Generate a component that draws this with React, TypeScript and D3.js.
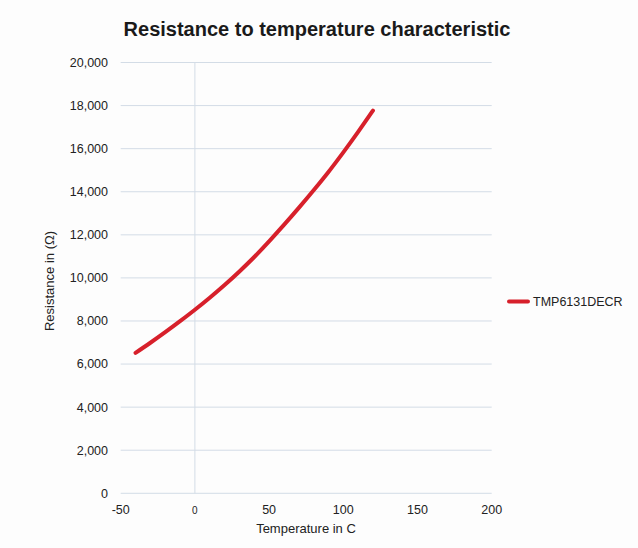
import React from "react";
import * as d3 from "d3";

const temperatures = [-40, -30, -20, -10, 0, 10, 20, 30, 40, 50, 60, 70, 80, 90, 100, 110, 120];
const resistance = [6520, 6990, 7480, 7990, 8520, 9080, 9670, 10300, 10970, 11700, 12460, 13250, 14070, 14920, 15830, 16780, 17770];
const xTicks = [-50, 0, 50, 100, 150, 200];
const yTicks = [0, 2000, 4000, 6000, 8000, 10000, 12000, 14000, 16000, 18000, 20000];
const seriesName = "TMP6131DECR";
const title = "Resistance to temperature characteristic";
const xTitle = "Temperature in C";
const yTitle = "Resistance in (Ω)";

const W = 638;
const H = 548;
const FONT = "'Liberation Sans', Arial, Helvetica, sans-serif";

export default function App() {
  const x = d3.scaleLinear().domain([-50, 200]).range([120.7, 491.7]);
  const y = d3.scaleLinear().domain([0, 20000]).range([493.3, 62.5]);
  const data = temperatures.map((t, i) => [t, resistance[i]] as [number, number]);
  const line = d3
    .line<[number, number]>()
    .x((d) => x(d[0]))
    .y((d) => y(d[1]))
    .curve(d3.curveMonotoneX);
  const grid = "#d3dce6";
  const text = "#222";
  const red = "#d7202b";
  return (
    <svg
      width={W}
      height={H}
      style={{ position: "absolute", left: 0, top: 0, background: "#fdfdfd" }}
    >
      <rect x={0} y={0} width={W} height={H} fill="#fdfdfd" />
      <text x={317} y={36} textAnchor="middle" fontFamily={FONT} fontWeight="bold" fontSize={20} fill="#1a1a1a">
        {title}
      </text>
      {yTicks.map((v) => (
        <g key={v}>
          <line x1={x(-50)} x2={x(200)} y1={y(v)} y2={y(v)} stroke={grid} strokeWidth={1} />
          <text x={108} y={y(v)} dy="0.35em" textAnchor="end" fontFamily={FONT} fontSize={12.5} fill={text}>
            {d3.format(",")(v)}
          </text>
        </g>
      ))}
      <line x1={x(0)} x2={x(0)} y1={y(20000)} y2={y(0)} stroke={grid} strokeWidth={1} />
      {xTicks.map((v) => (
        <text
          key={v}
          x={x(v)}
          y={514}
          textAnchor="middle"
          fontFamily={FONT}
          fontSize={v === 0 ? 10 : 12.5}
          fill={text}
        >
          {v}
        </text>
      ))}
      <text x={306} y={533} textAnchor="middle" fontFamily={FONT} fontSize={13} fill={text}>
        {xTitle}
      </text>
      <text
        transform={`translate(54,${281}) rotate(-90)`}
        textAnchor="middle"
        fontFamily={FONT}
        fontSize={13}
        fill={text}
      >
        {yTitle}
      </text>
      <path d={line(data) || ""} fill="none" stroke={red} strokeWidth={4} strokeLinecap="round" />
      <line x1={509} x2={528} y1={301.5} y2={301.5} stroke={red} strokeWidth={4} strokeLinecap="round" />
      <text x={533} y={301.5} dy="0.35em" fontFamily={FONT} fontSize={12.5} fill={text}>
        {seriesName}
      </text>
    </svg>
  );
}
